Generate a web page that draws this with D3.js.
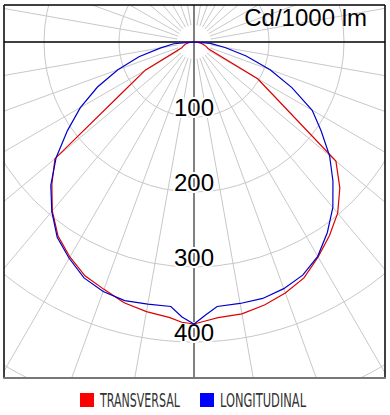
<!DOCTYPE html>
<html>
<head>
<meta charset="utf-8">
<script src="https://cdn.jsdelivr.net/npm/d3@7"></script>
<style>
  body { margin: 0; background: #fff; }
</style>
</head>
<body>
<script>
// gamma angles (deg, 0 = nadir), values in cd/1000 lm
var angles = [-90, -85, -80, -75, -70, -65, -60, -55, -50, -45, -40, -35, -30, -25, -20, -15, -10, -5, -2.5,
              0, 2.5, 5, 10, 15, 20, 25, 30, 35, 40, 45, 50, 55, 60, 65, 70, 75, 80, 85, 90];
var transversal = [0, 4, 8, 12, 15, 18, 75, 114, 242, 268, 294, 316, 331, 344, 351, 360, 365, 369, 374,
                   376, 372, 369, 368, 363, 356, 347, 331, 315, 298, 275, 247, 140, 98, 21, 17, 13, 9, 5, 0];
var longitudinal = [0, 27, 45, 76, 108, 142, 175, 206, 240, 270, 295, 318, 333, 347, 354, 357, 355, 354, 367,
                    376, 364, 354, 354, 354, 350, 343, 330, 310, 288, 262, 236, 207, 182, 144, 108, 72, 42, 22, 0];
var rings = [100, 200, 300, 400, 500];
var ringLabels = ["100", "200", "300", "400"];
var unitLabel = "Cd/1000 lm";
var seriesNames = ["TRANSVERSAL", "LONGITUDINAL"];
var seriesColors = ["#dd0000", "#0000cc"];
var legendColors = ["#ff0000", "#0000ff"];

var w = 390, h = 415;
var box = {x0: 4, y0: 5, x1: 385, y1: 378};
var cx = 194, cy = 42;

var r = d3.scaleLinear().domain([0, 100]).range([0, 75]);
var toRad = function(a) { return Math.PI - a * Math.PI / 180; };

var svg = d3.select("body").append("svg")
    .attr("width", w)
    .attr("height", h);

svg.append("clipPath").attr("id", "frame")
  .append("rect")
    .attr("x", box.x0).attr("y", box.y0)
    .attr("width", box.x1 - box.x0).attr("height", box.y1 - box.y0);

var plot = svg.append("g").attr("clip-path", "url(#frame)");

// unit label sits under the grid
svg.append("text")
    .attr("x", 367).attr("y", 26)
    .attr("text-anchor", "end")
    .attr("font-family", "Liberation Sans, Arial, sans-serif")
    .attr("font-size", 24)
    .attr("fill", "#000")
    .text(unitLabel);

var g = plot.append("g").attr("transform", "translate(" + cx + "," + cy + ")");

// rings
g.selectAll("circle.ring")
    .data(rings)
    .enter()
    .append("circle")
    .attr("class", "ring")
    .attr("r", function(d) { return r(d); })
    .attr("fill", "none")
    .attr("stroke", "#c8c8c8")
    .attr("stroke-width", 1);

// spokes every 10 deg
var spokes = d3.range(0, 360, 10).filter(function(d) { return d % 90 != 0; });
g.selectAll("line.spoke")
    .data(spokes)
    .enter()
    .append("line")
    .attr("class", "spoke")
    .attr("x1", function(d) { return 17 * Math.sin(d * Math.PI / 180); })
    .attr("y1", function(d) { return 17 * Math.cos(d * Math.PI / 180); })
    .attr("x2", function(d) { return 600 * Math.sin(d * Math.PI / 180); })
    .attr("y2", function(d) { return 600 * Math.cos(d * Math.PI / 180); })
    .attr("stroke", "#c8c8c8")
    .attr("stroke-width", 1);

// axes
svg.append("line")
    .attr("x1", cx).attr("x2", cx)
    .attr("y1", box.y0).attr("y2", box.y1)
    .attr("stroke", "#808080").attr("stroke-width", 2);
svg.append("line")
    .attr("x1", box.x0).attr("x2", box.x1)
    .attr("y1", cy).attr("y2", cy)
    .attr("stroke", "#000").attr("stroke-width", 1.3);

// ring labels
svg.selectAll("text.ringlabel")
    .data(ringLabels)
    .enter()
    .append("text")
    .attr("class", "ringlabel")
    .attr("x", cx)
    .attr("y", function(d) { return cy + r(+d) - 1.5; })
    .attr("text-anchor", "middle")
    .attr("font-family", "Liberation Sans, Arial, sans-serif")
    .attr("font-size", 24)
    .attr("fill", "#000")
    .attr("stroke", "#fff")
    .attr("stroke-width", 4)
    .attr("paint-order", "stroke")
    .text(function(d) { return d; });

// curves
var line = d3.lineRadial()
    .angle(function(d) { return toRad(d[0]); })
    .radius(function(d) { return r(d[1]); });

var series = [transversal, longitudinal];
var curves = svg.append("g").attr("transform", "translate(" + cx + "," + cy + ")");
curves.selectAll("path")
    .data(series)
    .enter()
    .append("path")
    .attr("d", function(vals) {
        return line(angles.map(function(a, i) { return [a, vals[i]]; }));
    })
    .attr("fill", "none")
    .attr("stroke", function(d, i) { return seriesColors[i]; })
    .attr("stroke-width", 1.2);

// frame
svg.append("line").attr("x1", box.x0).attr("x2", box.x1).attr("y1", box.y0).attr("y2", box.y0)
    .attr("stroke", "#000").attr("stroke-width", 1.5);
svg.append("line").attr("x1", box.x0).attr("x2", box.x0).attr("y1", box.y0).attr("y2", box.y1)
    .attr("stroke", "#000").attr("stroke-width", 1.5);
svg.append("line").attr("x1", box.x1).attr("x2", box.x1).attr("y1", box.y0).attr("y2", box.y1)
    .attr("stroke", "#000").attr("stroke-width", 1.5);
svg.append("line").attr("x1", box.x0 - 0.75).attr("x2", box.x1 + 0.75).attr("y1", box.y1).attr("y2", box.y1)
    .attr("stroke", "#777").attr("stroke-width", 2);

// legend
var legendX = [80, 200];
var leg = svg.selectAll("g.legend")
    .data(seriesNames)
    .enter()
    .append("g")
    .attr("class", "legend")
    .attr("transform", function(d, i) { return "translate(" + legendX[i] + ",393)"; });
leg.append("rect")
    .attr("width", 14).attr("height", 14)
    .attr("fill", function(d, i) { return legendColors[i]; });
leg.append("text")
    .attr("x", 20).attr("y", 14)
    .attr("font-family", "DejaVu Sans Condensed, DejaVu Sans, sans-serif")
    .attr("font-size", 19)
    .attr("fill", "#333")
    .attr("textLength", function(d, i) { return i == 0 ? 80 : 86; })
    .attr("lengthAdjust", "spacingAndGlyphs")
    .text(function(d) { return d; });
</script>
</body>
</html>
